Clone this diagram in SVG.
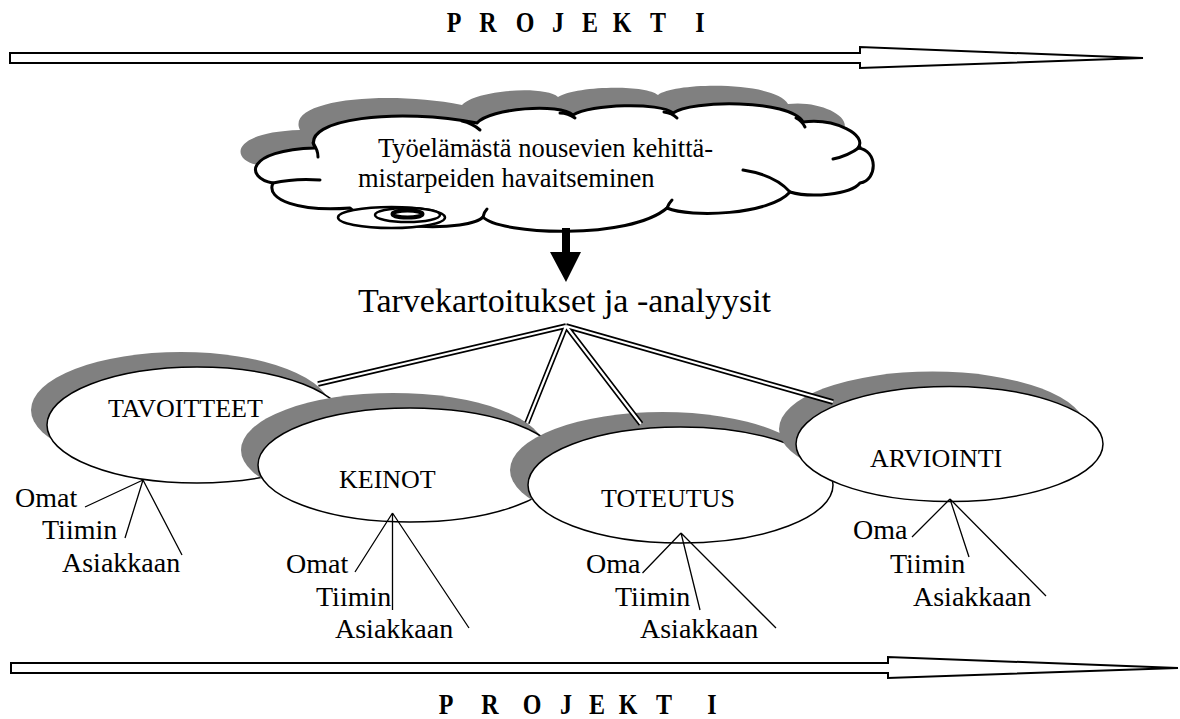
<svg xmlns="http://www.w3.org/2000/svg" width="1180" height="719" viewBox="0 0 1180 719">
  <defs>
    <style>
      text{font-family:"Liberation Serif","Times New Roman",serif;fill:#000}
      .title{font-weight:bold;font-size:30px;text-anchor:middle}
      .band{fill:#fff;stroke:#000;stroke-width:2;stroke-linejoin:miter}
      .shadow{fill:#808080}
      .oval{fill:#fff;stroke:#000;stroke-width:1.5}
      .lbl{font-size:26px}
      .sub{font-size:28px}
      .twig{stroke:#000;stroke-width:1.3;fill:none}
      .dbl-o{stroke:#000;stroke-width:5.5;fill:none;stroke-linecap:butt}
      .dbl-i{stroke:#fff;stroke-width:2.2;fill:none;stroke-linecap:butt}
      .cloud{fill:#fff;stroke:#000;stroke-width:3;stroke-linejoin:round}
      .hook{fill:none;stroke:#000;stroke-width:3;stroke-linecap:round}
      .bubble{fill:#fff;stroke:#000;stroke-width:2.5}
    </style>
    <path id="cloudShape" d="M315,148 C300,118 400,108 477,123 C490,108 560,103 573,115 C590,104 660,102 673,113 C690,100 790,99 803,122 C835,118 868,135 858,148 C878,150 878,180 860,183 C850,195 810,198 790,192 C770,215 690,218 667,208 C630,240 500,235 483,217 C470,232 370,230 350,208 C300,212 265,200 273,183 C245,178 245,150 315,148 Z"/>
  </defs>

  <!-- top project band -->
  <g id="projekti-top">
    <g transform="scale(0.8,1)">
      <text class="title" font-family="Liberation Serif, serif" y="32" x="567.5 588 610 633 656.25 677 697.5 717 737.5 757 777.5 800 822.5 849 875">P R O J E K T I</text>
    </g>
    <polygon class="band" points="10,53 860,53 860,47 1143,58 860,68 860,63 10,63"/>
  </g>

  <!-- cloud -->
  <g id="cloud">
    <use href="#cloudShape" class="shadow" transform="translate(-15,-18)"/>
    <use href="#cloudShape" class="cloud"/>
    <path class="hook" d="M313,143 Q318,150 318,157"/>
    <path class="hook" d="M462,121 Q472,123 480,130"/>
    <path class="hook" d="M560,113 Q568,113 575,118"/>
    <path class="hook" d="M664,112 Q672,113 677,118"/>
    <path class="hook" d="M796,118 Q802,121 805,127"/>
    <path class="hook" d="M860,147 Q848,156 833,159"/>
    <path class="hook" d="M743,170 Q775,175 790,192"/>
    <path class="hook" d="M667,208 Q669,203 672,200"/>
    <path class="hook" d="M483,217 Q484,212 487,209"/>
    <path class="hook" d="M273,183 Q295,178 320,180"/>
    <text font-family="Liberation Serif, serif" font-size="26.5" x="378" y="157">Työelämästä nousevien kehittä-</text>
    <text font-family="Liberation Serif, serif" font-size="26.5" x="358" y="187">mistarpeiden havaitseminen</text>
    <ellipse class="bubble" cx="391.5" cy="217.5" rx="53.5" ry="10.5"/>
    <ellipse class="bubble" cx="407.5" cy="215" rx="32.5" ry="7"/>
    <ellipse fill="#fff" stroke="#000" stroke-width="4" cx="407.5" cy="214" rx="15" ry="3.5"/>
  </g>

  <!-- needs analysis heading -->
  <g id="tarvekartoitukset">
    <text font-family="Liberation Serif, serif" font-size="34" x="358" y="312">Tarvekartoitukset ja -analyysit</text>
  </g>

  <!-- phase ovals -->
  <g id="tavoitteet">
    <ellipse class="shadow" cx="181" cy="410" rx="150" ry="58"/>
    <ellipse class="oval" cx="197" cy="425" rx="150" ry="58"/>
    <text class="lbl" font-family="Liberation Serif, serif" x="108" y="417">TAVOITTEET</text>
    <text class="sub" font-family="Liberation Serif, serif" x="15" y="507">Omat</text>
    <text class="sub" font-family="Liberation Serif, serif" x="42" y="539">Tiimin</text>
    <text class="sub" font-family="Liberation Serif, serif" x="62" y="572">Asiakkaan</text>
  </g>

  <g id="keinot">
    <ellipse class="shadow" cx="393" cy="450" rx="152" ry="57"/>
    <ellipse class="oval" cx="410" cy="465" rx="152" ry="57"/>
    <text class="lbl" font-family="Liberation Serif, serif" x="339" y="488">KEINOT</text>
    <text class="sub" font-family="Liberation Serif, serif" x="286" y="573">Omat</text>
    <text class="sub" font-family="Liberation Serif, serif" x="316" y="606">Tiimin</text>
    <text class="sub" font-family="Liberation Serif, serif" x="335" y="638">Asiakkaan</text>
  </g>

  <g id="toteutus">
    <ellipse class="shadow" cx="662.5" cy="470" rx="152.5" ry="58"/>
    <ellipse class="oval" cx="680.5" cy="485" rx="152.5" ry="58"/>
    <text class="lbl" font-family="Liberation Serif, serif" x="601" y="507">TOTEUTUS</text>
    <text class="sub" font-family="Liberation Serif, serif" x="586" y="573">Oma</text>
    <text class="sub" font-family="Liberation Serif, serif" x="615" y="606">Tiimin</text>
    <text class="sub" font-family="Liberation Serif, serif" x="640" y="638">Asiakkaan</text>
  </g>

  <g id="arviointi">
    <ellipse class="shadow" cx="932.5" cy="429" rx="153.5" ry="57.5"/>
    <ellipse class="oval" cx="949.5" cy="444" rx="153.5" ry="57.5"/>
    <text class="lbl" font-family="Liberation Serif, serif" x="870" y="467">ARVIOINTI</text>
    <text class="sub" font-family="Liberation Serif, serif" x="853" y="539">Oma</text>
    <text class="sub" font-family="Liberation Serif, serif" x="890" y="573">Tiimin</text>
    <text class="sub" font-family="Liberation Serif, serif" x="913" y="606">Asiakkaan</text>
  </g>

  <!-- connectors -->
  <g id="connectors">
    <rect x="562" y="228" width="8" height="25" fill="#000"/>
    <polygon points="550,252 581,252 566,282" fill="#000"/>

    <g>
      <path class="dbl-o" d="M566,326 L318,384 M566,326 L527,423 M566,326 L641,424 M566,326 L833,402"/>
      <path class="dbl-i" d="M566,326 L318,384 M566,326 L527,423 M566,326 L641,424 M566,326 L833,402"/>
    </g>

    <path class="twig" d="M143,480 L85,507 M143,480 L125,538 M143,480 L182,555"/>
    <path class="twig" d="M392.5,513 L355,572 M392.5,513 L392.5,610 M392.5,513 L469,628"/>
    <path class="twig" d="M681,533 L642.5,573 M681,533 L700,610 M681,533 L776,628"/>
    <path class="twig" d="M950,499 L912,537 M950,499 L969,557 M950,499 L1046,596"/>
  </g>

  <!-- bottom project band -->
  <g id="projekti-bottom">
    <polygon class="band" points="11,663 888,663 888,657 1178,668 888,678 888,673 11,673"/>
    <g transform="scale(0.8,1)">
      <text class="title" font-family="Liberation Serif, serif" y="714" x="557.5 585 612.5 639 665 686 707.5 727 746.25 765 785 807 830 860 890">P R O J E K T I</text>
    </g>
  </g>
</svg>
